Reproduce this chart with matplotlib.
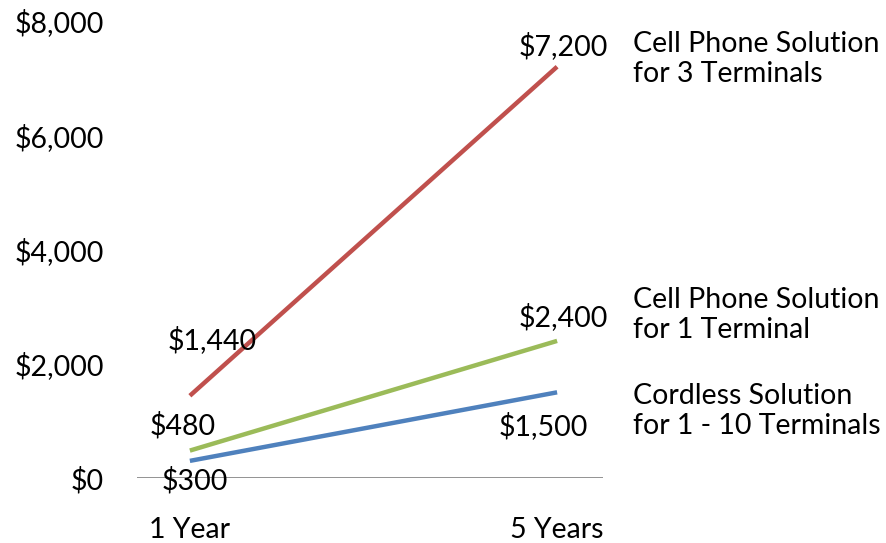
import matplotlib
matplotlib.use('Agg')
from matplotlib import pyplot as plt

plt.rcParams['font.family'] = ['Lato', 'DejaVu Sans']

kategorije = ['1 Year', '5 Years']
cell_3 = [1440, 7200]
cell_1 = [480, 2400]
cordless = [300, 1500]
nazivi = ['Cell Phone Solution\nfor 3 Terminals',
          'Cell Phone Solution\nfor 1 Terminal',
          'Cordless Solution\nfor 1 - 10 Terminals']
y_ticks = [0, 2000, 4000, 6000, 8000]

boje = ['#C0504D', '#9BBB59', '#4F81BD']

fig = plt.figure(figsize=(8.86, 5.43), dpi=100)
ax = fig.add_axes([137 / 886, 65 / 543, 466 / 886, 457 / 543])

x = [0, 1]
ax.plot(x, cell_3, color=boje[0], lw=3.2, solid_capstyle='butt')
ax.plot(x, cell_1, color=boje[1], lw=3.2, solid_capstyle='butt')
ax.plot(x, cordless, color=boje[2], lw=3.2, solid_capstyle='butt')

ax.set_xlim(-0.144, 1.125)
ax.set_ylim(0, 8000)
ax.axhline(0, color='#808080', lw=1.2, zorder=1)

fs = 20.5
# oznake podataka
ax.annotate(f'${cell_3[0]:,}', (x[0], cell_3[0]), xytext=(22, 56), textcoords='offset pixels',
            ha='center', va='center', fontsize=fs)
ax.annotate(f'${cell_3[1]:,}', (x[1], cell_3[1]), xytext=(6, 21), textcoords='offset pixels',
            ha='center', va='center', fontsize=fs)
ax.annotate(f'${cell_1[0]:,}', (x[0], cell_1[0]), xytext=(-7, 25), textcoords='offset pixels',
            ha='center', va='center', fontsize=fs)
ax.annotate(f'${cell_1[1]:,}', (x[1], cell_1[1]), xytext=(6, 24), textcoords='offset pixels',
            ha='center', va='center', fontsize=fs)
ax.annotate(f'${cordless[0]:,}', (x[0], cordless[0]), xytext=(5, -20), textcoords='offset pixels',
            ha='center', va='center', fontsize=fs)
ax.annotate(f'${cordless[1]:,}', (x[1], cordless[1]), xytext=(-14, -34), textcoords='offset pixels',
            ha='center', va='center', fontsize=fs)

ax.set_yticks(y_ticks)
ax.set_yticklabels([f'${v:,}' for v in y_ticks], fontsize=fs)
ax.set_xticks(x)
ax.set_xticklabels(kategorije, fontsize=fs)
ax.tick_params(axis='y', length=0, pad=24)
ax.tick_params(axis='x', length=0, pad=28)
for s in ax.spines.values():
    s.set_visible(False)

# nazivi serija desno
fig.text(633 / 886, 1 - 31 / 543, nazivi[0], ha='left', va='top', fontsize=fs, linespacing=1.2)
fig.text(633 / 886, 1 - 287 / 543, nazivi[1], ha='left', va='top', fontsize=fs, linespacing=1.2)
fig.text(633 / 886, 1 - 383 / 543, nazivi[2], ha='left', va='top', fontsize=fs, linespacing=1.2)

fig.savefig('out.png', dpi=100)
